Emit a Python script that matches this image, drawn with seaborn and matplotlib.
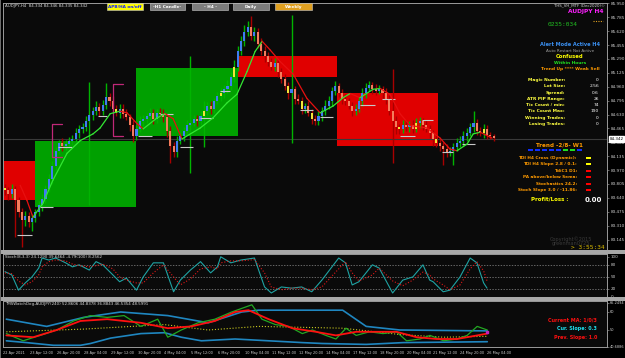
import numpy as np
import matplotlib
matplotlib.use("Agg")
import matplotlib.pyplot as plt
import seaborn as sns
from matplotlib.patches import Rectangle
from matplotlib.lines import Line2D

# ---------------- data ----------------
# H4 closes, one per bar (bar 0 = 22 Apr 2021)
closes = [83.73, 83.69, 83.75, 83.61, 83.47, 83.38, 83.43, 83.35, 83.40, 83.47,
          83.55, 83.63, 83.75, 83.87, 84.02, 84.20, 84.29, 84.26, 84.28, 84.32,
          84.34, 84.41, 84.46, 84.48, 84.55, 84.62, 84.67, 84.72, 84.67, 84.74,
          84.84, 84.79, 84.70, 84.65, 84.70, 84.64, 84.60, 84.50, 84.38, 84.46,
          84.55, 84.58, 84.61, 84.65, 84.58, 84.65, 84.64, 84.60, 84.44, 84.26,
          84.18, 84.32, 84.38, 84.44, 84.50, 84.53, 84.58, 84.55, 84.61, 84.67,
          84.73, 84.70, 84.79, 84.85, 84.88, 84.93, 84.97, 85.08, 85.20, 85.38,
          85.50, 85.61, 85.67, 85.56, 85.61, 85.47, 85.38, 85.32, 85.26, 85.20,
          85.24, 85.14, 85.05, 84.97, 84.88, 84.93, 84.81, 84.79, 84.70, 84.73,
          84.65, 84.58, 84.55, 84.61, 84.67, 84.73, 84.79, 84.91, 84.97, 84.88,
          84.81, 84.79, 84.73, 84.67, 84.70, 84.79, 84.88, 84.95, 84.98, 84.93,
          84.91, 84.93, 84.88, 84.81, 84.67, 84.55, 84.48, 84.46, 84.51, 84.48,
          84.51, 84.46, 84.53, 84.55, 84.50, 84.46, 84.41, 84.34, 84.29, 84.26,
          84.22, 84.18, 84.20, 84.25, 84.29, 84.32, 84.37, 84.41, 84.48, 84.53,
          84.44, 84.41, 84.46, 84.39, 84.37, 84.35]
first_open = 83.76

# wick length above / below the body
wick_up = [.05, .04, .06, .03, .04, .05, .06, .04, .05, .04,
           .05, .06, .04, .05, .06, .05, .04, .06, .05, .04,
           .05, .06, .04, .05, .06, .40, .05, .07, .05, .06,
           .16, .05, .06, .04, .05, .06, .05, .04, .06, .05,
           .06, .05, .04, .06, .05, .04, .06, .05, .04, .05,
           .04, .06, .05, .04, .06, .79, .05, .04, .06, .12,
           .05, .06, .04, .05, .06, .05, .07, .06, .08, .07,
           .06, .08, .07, .13, .06, .05, .07, .06, .05, .04,
           .06, .05, .04, .06, .05, .88, .04, .06, .05, .04,
           .06, .05, .04, .06, .05, .07, .06, .05, .06, .04,
           .05, .06, .04, .05, .06, .05, .07, .06, .05, .04,
           .06, .05, .04, .06, .05, .50, .06, .04, .05, .06,
           .04, .05, .06, .05, .04, .06, .05, .04, .06, .05,
           .04, .06, .05, .04, .06, .05, .07, .06, .05, .14,
           .05, .04, .06, .05, .03, .03]
wick_dn = [.06, .08, .05, .44, .06, .32, .07, .06, .10, .05,
           .04, .06, .05, .04, .06, .05, .04, .06, .05, .04,
           .05, .04, .06, .05, .04, 1.0, .05, .04, .06, .05,
           .04, .06, .05, .04, .06, .05, .04, .06, .08, .05,
           .04, .06, .05, .04, .06, .05, .04, .06, .08, .20,
           .06, .05, .04, .06, .05, .56, .04, .06, .05, .37,
           .04, .06, .05, .04, .06, .05, .04, .05, .06, .05,
           .04, .06, .05, .04, .06, .05, .04, .06, .05, .04,
           .05, .06, .04, .05, .06, .59, .05, .04, .06, .05,
           .04, .06, .05, .04, .06, .05, .04, .06, .05, .04,
           .06, .05, .04, .06, .05, .04, .06, .05, .04, .06,
           .05, .04, .06, .05, .04, .50, .08, .06, .05, .04,
           .06, .05, .04, .06, .05, .04, .06, .08, .05, .06,
           .19, .05, .04, .17, .05, .04, .06, .05, .04, .06,
           .05, .04, .06, .05, .03, .03]
yellow_bars = [0, 33, 59, 64, 68, 84, 88, 91, 117, 122, 128, 142]

# supply / demand boxes
zone_start = [-1, 9, 39, 69, 98.5]
zone_end = [9, 39, 69, 98.5, 128.5]
zone_top = [84.08, 84.32, 85.18, 85.32, 84.88]
zone_bottom = [83.61, 83.53, 84.38, 85.08, 84.26]
zone_color = ['#e00000', '#00a000', '#00a000', '#e00000', '#e00000']

# trend moving average
ma_idx = [4.5, 6.5, 8.3, 11.3, 14.2, 18.4, 22.3, 26.1, 28.2, 31.2,
          34.1, 36.2, 39.2, 41, 45.1, 47.5, 49.9, 52.5, 57.9, 61.7,
          65.9, 68.8, 71.8, 74.2, 76.3, 78.6, 81.6, 85.5, 89.6, 93.5,
          97.3, 100.3, 102.4, 105.3, 109.2, 111.3, 114.2, 117.2, 120.2, 125.2,
          129.1, 132, 134.1, 137.1, 138.9, 141, 144.5]
ma_val = [83.79, 83.61, 83.41, 83.58, 83.85, 84.17, 84.32, 84.40, 84.47, 84.64,
          84.67, 84.65, 84.52, 84.46, 84.59, 84.64, 84.58, 84.34, 84.47, 84.59,
          84.77, 84.87, 85.14, 85.38, 85.50, 85.40, 85.26, 85.11, 84.82, 84.65,
          84.73, 84.83, 84.88, 84.83, 84.93, 84.94, 84.87, 84.64, 84.50, 84.47,
          84.35, 84.22, 84.20, 84.28, 84.40, 84.42, 84.35]

# short pivot dashes and magenta brackets
level_start = [3.6, 10.4, 15.7, 27.6, 39.5, 46, 51.9, 57.9, 63.8, 87.5,
               93.5, 105.3, 111.9, 117.2, 123.7, 129.7, 135.6]
level_end = [8.0, 14.2, 19.9, 30.3, 43.6, 49.9, 55.8, 61.7, 66.8, 91.4,
             97.3, 109.8, 115.7, 121.7, 127, 132.9, 139.5]
level_price = [83.20, 83.53, 84.25, 84.61, 84.38, 84.64, 84.24, 84.59, 84.91, 84.68,
               84.60, 84.74, 84.81, 84.38, 84.57, 84.19, 84.28]
bracket_start = [14, 32]
bracket_end = [17, 35]
bracket_top = [84.52, 84.99]
bracket_bottom = [84.12, 84.38]

price_ticks = [85.950, 85.785, 85.620, 85.455, 85.290, 85.125, 84.960, 84.795, 84.630,
               84.465, 84.300, 84.135, 83.970, 83.805, 83.640, 83.475, 83.310, 83.145]
last_price = 84.342

# Stochastic(8,3,3)
stoch_idx = [0, 2, 4, 6, 8, 10, 11, 13, 15, 18, 20, 22, 25, 27, 29, 32, 34, 36, 39, 41,
             44, 47, 50, 52, 55, 58, 61, 63, 64, 67, 70, 74, 77, 79, 82, 85, 88, 91, 94, 99,
             101, 103, 105, 109, 111, 115, 118, 121, 124, 126, 127, 130, 132, 135, 138, 140, 142, 143]
stoch_k = [63, 55, 17, 35, 50, 72, 97, 92, 97, 85, 75, 80, 67, 88, 80, 55, 38, 47, 17, 50,
           85, 85, 13, 42, 67, 88, 60, 75, 100, 85, 92, 97, 25, 10, 25, 22, 25, 13, 42, 97,
           85, 30, 38, 80, 72, 10, 42, 50, 80, 42, 38, 13, 17, 50, 97, 85, 35, 22]
stoch_d = [60, 58, 40, 30, 38, 55, 75, 88, 92, 90, 82, 78, 75, 78, 82, 70, 50, 42, 35, 35,
           60, 80, 50, 30, 45, 70, 75, 70, 85, 90, 90, 93, 60, 25, 18, 22, 22, 18, 25, 70,
           88, 60, 40, 55, 72, 40, 28, 42, 62, 55, 45, 30, 18, 30, 70, 88, 65, 40]
stoch_levels = [20, 50, 80]

# TMSWatchDog panel
upper_idx = [0, 12, 23, 34, 48, 60, 70, 75, 100, 107, 117, 143]
upper_val = [56, 52, 57, 60, 58, 54, 60, 61, 61, 52, 50, 49.5]
lower_idx = [0, 6, 14, 22, 25, 31, 40, 47, 52, 58, 68, 78, 88, 94, 107, 118, 143]
lower_val = [44, 43, 41.5, 41.5, 42.5, 45.5, 48, 48.5, 46, 44, 45, 44, 43, 42.5, 42, 43, 43.5]
mid_idx = [0, 23, 47, 60, 75, 100, 117, 130, 143]
mid_val = [49, 50.5, 53, 50, 52, 51, 47.5, 46, 46.5]
rsi_idx = [0, 5, 10, 15, 20, 25, 30, 35, 40, 45, 48, 52, 57, 62, 67, 70, 73, 76, 80, 84,
           88, 91, 95, 98, 101, 104, 108, 112, 116, 119, 123, 126, 130, 134, 137, 140, 143]
rsi_val = [48, 44, 47, 50, 55, 58, 57, 58, 52, 56, 46, 50, 54, 56, 60, 62, 64, 56, 53, 52,
           48, 50, 47, 45, 51, 47, 49, 48, 49, 44, 45, 47, 44, 45, 47, 52, 50]
sig_idx = [0, 8, 15, 22, 30, 40, 48, 55, 62, 68, 72, 78, 85, 92, 98, 104, 110, 116, 122, 128,
           134, 140, 143]
sig_val = [47, 46, 50, 55, 56, 54, 51, 52, 55, 60, 61, 56, 51, 49, 47, 49, 49, 49, 46, 45,
           45, 47, 48]
wd_ticks = [40.6886, 50, 60, 65.2494]
wd_tick_labels = ['40.6886', '50', '60', '65.2494']

date_pos = [-1, 7, 15, 23, 31, 39, 47, 55, 63, 71, 79, 87, 95, 103, 111, 119, 127, 135, 143]
date_labels = ['22 Apr 2021', '23 Apr 12:00', '26 Apr 20:00', '28 Apr 04:00', '29 Apr 12:00',
               '30 Apr 20:00', '4 May 04:00', '5 May 12:00', '6 May 20:00', '10 May 04:00',
               '11 May 12:00', '12 May 20:00', '14 May 04:00', '17 May 12:00', '18 May 20:00',
               '20 May 04:00', '21 May 12:00', '24 May 20:00', '26 May 04:00']

info_labels = ['Magic Number:', 'Lot Size:', 'Spread:', 'ATR PIP Range:', 'Tic Count / min:',
               'Tic Count Max:', 'Winning Trades:', 'Losing Trades:']
info_values = ['0', '2.56', '0.6', '26', '74', '190', '0', '0']
trend_colors = ['#1030ff'] * 5 + ['#20e020'] * 2 + ['#1030ff']
check_labels = ['TDI H4 Cross (Dynamic):', 'TDI H4 Slope 2.8 / 0.1:', 'TdiC1 D1:',
                'PA above/below Sema:', 'Stochastics 24.2:', 'Stoch Slope 3.0 / -11.86:']
check_colors = ['#ffff00', '#ffff00', '#ff0000', '#ff0000', '#ff0000', '#ff0000']

# ---------------- figure ----------------
sns.set_style("dark")
plt.rcParams['font.family'] = ['DejaVu Sans']

W, H = 625, 358
fig = plt.figure(figsize=(6.25, 3.58), dpi=100, facecolor='#000000')


def rect(x0, y0, x1, y1):
    return [x0 / W, 1 - y1 / H, (x1 - x0) / W, (y1 - y0) / H]


def ftext(x, y, s, **kw):
    kw.setdefault('va', 'center')
    fig.text(x / W, 1 - y / H, s, **kw)


def fbox(x0, y0, x1, y1, **kw):
    fig.add_artist(Rectangle((x0 / W, 1 - y1 / H), (x1 - x0) / W, (y1 - y0) / H,
                             transform=fig.transFigure, **kw))


ax = fig.add_axes(rect(3, 3, 607, 250))
ax_st = fig.add_axes(rect(3, 254, 607, 297))
ax_wd = fig.add_axes(rect(3, 301, 607, 347))

for a in (ax, ax_st, ax_wd):
    a.set_facecolor('#0a0a0a')
    a.grid(False)
    a.set_xlim(-0.6, 178.6)
    a.yaxis.tick_right()
    a.tick_params(axis='y', colors='#8a8a8a', labelcolor='#d0d0d0', labelsize=3.0,
                  length=1.5, width=0.5, pad=1)
    a.tick_params(axis='x', colors='#8a8a8a', labelcolor='#d0d0d0', labelsize=2.5,
                  length=2, width=0.5, pad=1)
    for sp in a.spines.values():
        sp.set_color('#9a9a9a')
        sp.set_linewidth(0.7)
ax_wd.tick_params(axis='y', labelsize=2.5, pad=0.8)

# ---- main price panel ----
close = np.array(closes)
opens = np.r_[first_open, close[:-1]]
bar_idx = np.arange(len(close))
bull = close >= opens
top = np.maximum(opens, close) + np.array(wick_up)
bot = np.minimum(opens, close) - np.array(wick_dn)

for s, e, t, b, c in zip(zone_start, zone_end, zone_top, zone_bottom, zone_color):
    ax.add_patch(Rectangle((s, b), e - s, t - b, color=c, lw=0, zorder=1))

ax.axhline(last_price, color='#3a3a3a', lw=0.8, zorder=2)

ax.vlines(bar_idx, bot, top, colors=np.where(bull, '#00b400', '#a80000'), lw=1.0, zorder=3)
body = close - opens
body = np.where(np.abs(body) < 0.012, np.where(bull, 0.012, -0.012), body)
body_colors = np.where(bull, '#3f7cf2', '#f47c5c').astype(object)
body_colors[yellow_bars] = '#f2e43a'
ax.bar(bar_idx, body, bottom=opens, width=0.62, color=list(body_colors), lw=0, zorder=4)

ax.hlines(level_price, level_start, level_end, colors='#c8c8c8', lw=0.8, zorder=5)
for s, e, t, b in zip(bracket_start, bracket_end, bracket_top, bracket_bottom):
    ax.plot([e, s, s, e], [t, t, b, b], color='#c02878', lw=0.9, zorder=5)

for i in range(len(ma_idx) - 1):
    col = '#33e833' if ma_val[i + 1] >= ma_val[i] else '#e81010'
    ax.plot(ma_idx[i:i + 2], ma_val[i:i + 2], color=col, lw=0.9, zorder=6,
            solid_capstyle='round')

ax.set_ylim(83.021, 85.955)
ax.set_yticks(price_ticks)
ax.set_yticklabels([f'{v:.3f}' for v in price_ticks])
ax.set_xticks([])
ax.text(1.004, last_price, '84.342', transform=ax.get_yaxis_transform(), fontsize=3.0,
        color='#000000', va='center', ha='left', zorder=10,
        bbox=dict(boxstyle='square,pad=0.2', fc='#ffffff', ec='#ffffff'))

# ---- stochastic panel ----
for lv in stoch_levels:
    ax_st.axhline(lv, color='#8c8c8c', lw=0.5, ls=(0, (2, 2)))
sns.lineplot(x=stoch_idx, y=stoch_k, ax=ax_st, color='#1fa3a3', lw=0.8)
sns.lineplot(x=stoch_idx, y=stoch_d, ax=ax_st, color='#e01818', lw=0.8, ls=':')
ax_st.set_ylim(0, 107)
ax_st.set_yticks([0, 20, 50, 80, 100])
ax_st.set_xticks([])

# ---- watchdog panel ----
sns.lineplot(x=upper_idx, y=upper_val, ax=ax_wd, color='#1f86c0', lw=1.2)
sns.lineplot(x=lower_idx, y=lower_val, ax=ax_wd, color='#1f86c0', lw=1.2)
sns.lineplot(x=mid_idx, y=mid_val, ax=ax_wd, color='#c8c820', lw=0.8, ls=':')
sns.lineplot(x=rsi_idx, y=rsi_val, ax=ax_wd, color='#22a822', lw=0.9)
sns.lineplot(x=sig_idx, y=sig_val, ax=ax_wd, color='#ff1010', lw=1.3)
ax_wd.scatter([rsi_idx[-1]], [rsi_val[-1] - 1], marker='s', s=3, color='#c020c0', zorder=6)
ax_wd.set_ylim(40.56, 66.1)
ax_wd.set_yticks(wd_ticks)
ax_wd.set_yticklabels(wd_tick_labels)
ax_wd.set_xticks(date_pos)
ax_wd.set_xticklabels(date_labels, ha='left')
for a in (ax, ax_st, ax_wd):
    a.set_xlabel('')
    a.set_ylabel('')

# ---- panel separators ----
fbox(0, 250, 625, 253.5, color='#a8a8a8', lw=0)
fbox(0, 297, 625, 300.5, color='#a8a8a8', lw=0)
fbox(0, 0, 1.2, 358, color='#6a6a6a', lw=0)

# ---- titles ----
ftext(5, 6, 'AUDJPY,H4  84.334 84.346 84.335 84.342', color='#d8d8d8', fontsize=2.9)
ftext(5, 257.5, 'Stoch(8,3,3) 24.1290 39.6464 -4.79(100) 8.2562', color='#d8d8d8', fontsize=2.9)
ftext(5, 304.5, 'TMSWatchDog-AUDJPY(240) 52.8606 44.8378 36.8843 46.5354 48.5991',
      color='#d8d8d8', fontsize=2.9)

# ---- timeframe buttons ----
buttons = [(107, 143, 'APB/HA on/off', '#ffff00', '#1020ff'),
           (150, 185, '-H1 Candle-', '#7c7c7c', '#ffffff'),
           (192, 228, '- H4 -', '#7c7c7c', '#ffffff'),
           (233, 269, 'Daily', '#7c7c7c', '#ffffff'),
           (275, 312, 'Weekly', '#e0a020', '#ffffff')]
for x0, x1, lab, fc, tc in buttons:
    fbox(x0, 3, x1, 10, fc=fc, ec='#c8c8c8', lw=0.4)
    ftext((x0 + x1) / 2, 6.6, lab, color=tc, fontsize=3.1, fontweight='bold', ha='center')

# ---- right hand info block ----
ftext(605, 5, 'THS_VH_MTF (Dec2020)\u00a9', color='#d8d8d8', fontsize=2.8, ha='right')
ftext(603, 12, 'AUDJPY H4', color='#ff20ff', fontsize=4.2, fontweight='bold', ha='right')
ftext(563, 24, '0235:034', color='#22c022', fontsize=4.5, ha='center', family='DejaVu Sans Mono')
fig.add_artist(Line2D([593 / W, 603 / W], [1 - 21 / H, 1 - 21 / H], transform=fig.transFigure,
                      color='#e0a020', lw=0.8, ls=(0, (1, 1.2))))
ftext(570, 45, 'Alert Mode Active H4', color='#3a8ff0', fontsize=3.6, fontweight='bold', ha='center')
ftext(570, 50.5, 'Auto Restart Not Active', color='#a0a0a0', fontsize=3.0, ha='center')
ftext(570, 57, 'Confused', color='#ffff00', fontsize=3.8, fontweight='bold', ha='center')
ftext(570, 63, 'Within Hours', color='#20e020', fontsize=3.2, fontweight='bold', ha='center')
ftext(570, 69, 'Trend Up **** Weak Sell', color='#ff9a00', fontsize=3.2, fontweight='bold', ha='center')
for k, (lab, val) in enumerate(zip(info_labels, info_values)):
    y = 80 + k * 6.3
    ftext(565, y, lab, color='#ffff40', fontsize=3.2, fontweight='bold', ha='right')
    ftext(599, y, val, color='#ffffff', fontsize=3.2, ha='right')

ftext(560, 145, 'Trend -2/8- W1', color='#ff9a00', fontsize=4.1, fontweight='bold', ha='center')
for k, c in enumerate(trend_colors):
    fbox(528 + 7 * k, 149.2, 533 + 7 * k, 150.8, color=c, lw=0)
for k, (lab, c) in enumerate(zip(check_labels, check_colors)):
    y = 158 + k * 6.4
    ftext(577, y, lab, color='#ff9a00', fontsize=3.1, fontweight='bold', ha='right')
    fbox(586, y - 0.9, 591, y + 0.9, color=c, lw=0)
ftext(550, 199, 'Profit/Loss :', color='#ffff00', fontsize=4.0, fontweight='bold', ha='center')
ftext(593, 200, '0.00', color='#ffffff', fontsize=5.0, fontweight='bold', ha='center')
ftext(571, 239, 'Copyright\u00a92015', color='#3a3a3a', fontsize=3.6, ha='center')
ftext(571, 244, 'greenman0725', color='#3a3a3a', fontsize=3.6, ha='center')
ftext(588, 247.5, '> 3:55:34', color='#e0c000', fontsize=4.4, ha='center', family='DejaVu Sans Mono')

ftext(597, 320, 'Current MA: 1/0/3', color='#ff1010', fontsize=3.5, fontweight='bold', ha='right')
ftext(597, 328.5, 'Cur. Slope: 0.3', color='#20e0f0', fontsize=3.5, fontweight='bold', ha='right')
ftext(597, 337, 'Prev. Slope: 1.0', color='#ff1010', fontsize=3.5, fontweight='bold', ha='right')

fig.savefig('out.png', dpi=100, facecolor=fig.get_facecolor())
